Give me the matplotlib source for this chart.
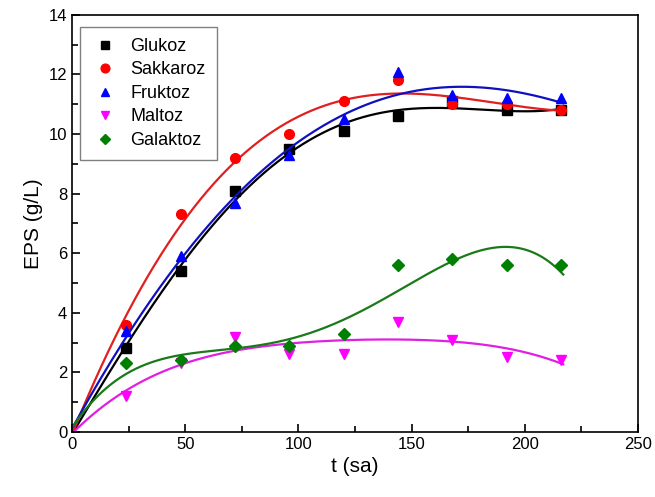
import numpy as np
import matplotlib.pyplot as plt

plt.rcParams['font.family'] = ['Liberation Sans', 'DejaVu Sans']

# sampling times (sa)
t = [24, 48, 72, 96, 120, 144, 168, 192, 216]

glukoz = [2.8, 5.4, 8.1, 9.5, 10.1, 10.6, 11.1, 10.8, 10.8]
sakkaroz = [3.6, 7.3, 9.2, 10.0, 11.1, 11.8, 11.0, 11.0, 10.8]
fruktoz = [3.4, 5.9, 7.7, 9.3, 10.5, 12.1, 11.3, 11.2, 11.2]
maltoz = [1.2, 2.3, 3.2, 2.6, 2.6, 3.7, 3.1, 2.5, 2.4]
galaktoz = [2.3, 2.4, 2.9, 2.9, 3.3, 5.6, 5.8, 5.6, 5.6]

series = [
    ("Glukoz", glukoz, "black", "black", "s"),
    ("Sakkaroz", sakkaroz, "red", "#e02020", "o"),
    ("Fruktoz", fruktoz, "blue", "#1010c0", "^"),
    ("Maltoz", maltoz, "magenta", "#e020e0", "v"),
    ("Galaktoz", galaktoz, "green", "#1a7a1a", "D"),
]

fig = plt.figure(figsize=(6.55, 4.97), dpi=100)
ax = fig.add_axes([0.110, 0.131, 0.864, 0.839])

tt = np.linspace(0, 217, 300)
for name, y, color, lcolor, marker in series:
    # smooth fit through the origin and the measured points
    coef = np.polyfit([0] + t, [0] + y, 4)
    ax.plot(tt, np.polyval(coef, tt), color=lcolor, lw=1.6)
    ax.plot(t, y, linestyle="none", marker=marker, color=color,
            markersize=7 if marker != "D" else 6, label=name)

ax.set_xlim(0, 250)
ax.set_ylim(0, 14)
ax.set_xticks([0, 50, 100, 150, 200, 250])
ax.set_xticks([25, 75, 125, 175, 225], minor=True)
ax.set_yticks(range(0, 15, 2))
ax.set_yticks(range(1, 14, 2), minor=True)
ax.tick_params(which="both", direction="in", top=False, right=False, labelsize=12)
ax.tick_params(which="major", length=6, width=1.2)
ax.tick_params(which="minor", length=4, width=1.2)
for s in ax.spines.values():
    s.set_linewidth(1.2)

ax.set_xlabel("t (sa)", fontsize=15)
ax.set_ylabel("EPS (g/L)", fontsize=15)

ax.legend(loc="upper left", fontsize=13, frameon=True, fancybox=False,
          edgecolor="#606060", handletextpad=0.6, borderpad=0.6,
          labelspacing=0.36, handlelength=1.6, markerscale=0.9,
          borderaxespad=0, bbox_to_anchor=(0.014, 0.971))

fig.savefig("out.png", dpi=100)
